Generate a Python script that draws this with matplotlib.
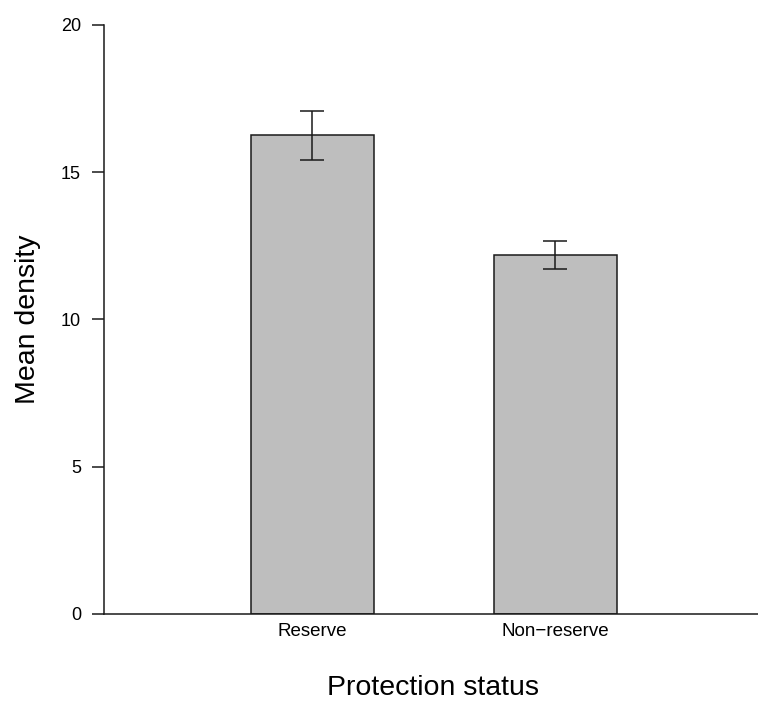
import numpy as np
import matplotlib
matplotlib.use('Agg')
import matplotlib.pyplot as plt

#Data
categories = ['Reserve', 'Non\u2212reserve']
mean_density = [16.27, 12.19]
err_low = [0.85, 0.49]
err_high = [0.80, 0.48]
y_ticks = [0, 5, 10, 15, 20]

plt.rcParams['font.family'] = ['Liberation Sans', 'DejaVu Sans']

fig = plt.figure(figsize=(7.58, 7.02), dpi=100)
ax = fig.add_axes([104/758, 88/702, 658/758, 589/702])

x = np.arange(len(categories))
ax.bar(x, mean_density, width=0.506, color='#bebebe', edgecolor='#1a1a1a', linewidth=1.1)
ax.errorbar(x, mean_density, yerr=[err_low, err_high], fmt='none', ecolor='#1a1a1a',
            elinewidth=1.1, capsize=8.6, capthick=1.1)

ax.set_xlim(-0.858, 1.85)
ax.set_ylim(0, 20)
ax.set_yticks(y_ticks)
ax.set_yticklabels([str(v) for v in y_ticks], fontsize=13)
ax.set_xticks(x)
ax.set_xticklabels(categories, fontsize=13.5)
ax.tick_params(axis='y', length=8.6, width=1.1, pad=8, color='#1a1a1a')
ax.tick_params(axis='x', length=0, pad=6.5)

for s in ['top', 'right']:
    ax.spines[s].set_visible(False)
for s in ['left', 'bottom']:
    ax.spines[s].set_linewidth(1.1)
    ax.spines[s].set_color('#1a1a1a')

ax.set_ylabel('Mean density', fontsize=20.5, labelpad=14)
ax.set_xlabel('Protection status', fontsize=20.5, labelpad=25.5)

fig.savefig('out.png', dpi=100)
